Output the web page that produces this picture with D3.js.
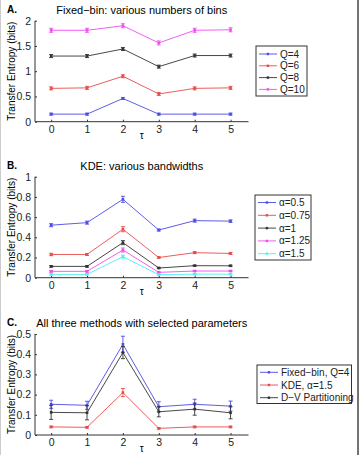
<!DOCTYPE html>
<html>
<head>
<meta charset="utf-8">
<script src="https://cdn.jsdelivr.net/npm/d3@7"></script>
<style>
  body { margin: 0; background: #fff; }
  svg { font-family: "Liberation Sans", Arial, sans-serif; }
</style>
</head>
<body>
<div id="cont"></div>
<script>
var taus = [0, 1, 2, 3, 4, 5];

// panel A: fixed-bin
var fbNames = ["Q=4", "Q=6", "Q=8", "Q=10"];
var fbQ4 = [0.15, 0.15, 0.46, 0.15, 0.15, 0.15];
var fbQ6 = [0.66, 0.67, 0.90, 0.55, 0.66, 0.67];
var fbQ8 = [1.30, 1.30, 1.44, 1.09, 1.31, 1.31];
var fbQ10 = [1.81, 1.81, 1.90, 1.56, 1.81, 1.82];
var fbErr = [0.02, 0.03, 0.03, 0.04];

// panel B: KDE
var kdeNames = ["\u03b1=0.5", "\u03b1=0.75", "\u03b1=1", "\u03b1=1.25", "\u03b1=1.5"];
var kde05 = [0.52, 0.545, 0.776, 0.472, 0.565, 0.56];
var kde075 = [0.23, 0.23, 0.48, 0.20, 0.248, 0.24];
var kde1 = [0.112, 0.112, 0.347, 0.096, 0.119, 0.118];
var kde125 = [0.063, 0.063, 0.274, 0.053, 0.066, 0.066];
var kde15 = [0.033, 0.033, 0.208, 0.030, 0.035, 0.035];
var kdeErr = [
  [0.015, 0.015, 0.03, 0.01, 0.015, 0.012],
  [0.012, 0.01, 0.025, 0.008, 0.01, 0.01],
  [0.008, 0.008, 0.02, 0.006, 0.006, 0.006],
  [0.008, 0.008, 0.02, 0.006, 0.006, 0.006],
  [0.006, 0.006, 0.015, 0.005, 0.005, 0.005]
];

// panel C: all three methods
var allNames = ["Fixed\u2212bin, Q=4", "KDE, \u03b1=1.5", "D\u2212V Partitioning"];
var allFb = [0.152, 0.147, 0.449, 0.14, 0.152, 0.143];
var allKde = [0.04, 0.038, 0.21, 0.033, 0.04, 0.04];
var allDv = [0.112, 0.11, 0.408, 0.115, 0.128, 0.11];
var allFbErr = [0.02, 0.02, 0.04, 0.025, 0.025, 0.025];
var allKdeErr = [0.004, 0.004, 0.02, 0.004, 0.004, 0.004];
var allDvErr = [0.035, 0.035, 0.03, 0.025, 0.03, 0.03];

var colors = {
  blue: "#4b4be8",
  red: "#e84b4b",
  black: "#333333",
  magenta: "#f04cf0",
  cyan: "#4cf0f0"
};

var svg = d3.select("#cont").append("svg")
  .attr("width", 359)
  .attr("height", 455);

// frame lines
svg.append("line").attr("x1", 0.5).attr("x2", 0.5).attr("y1", 0).attr("y2", 455)
  .attr("stroke", "#ccc");
svg.append("line").attr("x1", 358).attr("x2", 358).attr("y1", 0).attr("y2", 455)
  .attr("stroke", "#444").attr("stroke-width", 1.5);

function plotPanel(opt) {
  var left = 35, right = 248.5;
  var top = opt.top, bottom = opt.bottom;

  var xScale = d3.scaleLinear().domain([-0.45, 5.5]).range([left, right]);
  var yScale = d3.scaleLinear().domain([0, opt.ymax]).range([bottom, top]);

  var g = svg.append("g");

  g.append("g")
    .attr("transform", "translate(0," + bottom + ")")
    .call(d3.axisBottom(xScale).tickValues(taus).tickSize(-2).tickPadding(4)
      .tickFormat(d3.format("d")))
    .call(function(a) {
      a.select(".domain").attr("d", "M" + left + ",0H" + right).attr("stroke", "#333");
      a.selectAll("line").attr("stroke", "#333");
      a.selectAll("text").attr("font-size", 10.5).attr("fill", "#222").attr("font-family", "Liberation Sans, Arial, sans-serif");
    });

  g.append("g")
    .attr("transform", "translate(" + left + ",0)")
    .call(d3.axisLeft(yScale).tickValues(opt.yticks).tickSize(-2).tickPadding(4)
      .tickFormat(function(d) { return d; }))
    .call(function(a) {
      a.select(".domain").attr("d", "M0," + top + "V" + bottom).attr("stroke", "#333");
      a.selectAll("line").attr("stroke", "#333");
      a.selectAll("text").attr("font-size", 10.5).attr("fill", "#222").attr("font-family", "Liberation Sans, Arial, sans-serif");
    });

  g.append("text")
    .attr("x", 7).attr("y", top - 8)
    .attr("font-size", 10).attr("font-weight", "bold")
    .text(opt.letter);

  g.append("text")
    .attr("x", (left + right) / 2).attr("y", top - 7)
    .attr("text-anchor", "middle").attr("font-size", 11)
    .text(opt.title);

  g.append("text")
    .attr("x", (left + right) / 2).attr("y", bottom + 17)
    .attr("text-anchor", "middle").attr("font-size", 10)
    .text("\u03c4");

  g.append("text")
    .attr("transform", "translate(15," + (top + bottom) / 2 + ") rotate(-90)")
    .attr("text-anchor", "middle").attr("font-size", 10)
    .text("Transfer Entropy (bits)");

  var line = d3.line()
    .x(function(d, i) { return xScale(taus[i]); })
    .y(function(d) { return yScale(d); });

  opt.series.forEach(function(s) {
    var sg = g.append("g");
    sg.append("path")
      .attr("d", line(s.values))
      .attr("fill", "none")
      .attr("stroke", s.color)
      .attr("stroke-width", 0.9);

    s.values.forEach(function(v, i) {
      var x = xScale(taus[i]);
      var e = s.err[i];
      var y0 = yScale(v - e), y1 = yScale(v + e);
      sg.append("line").attr("x1", x).attr("x2", x).attr("y1", y0).attr("y2", y1)
        .attr("stroke", s.color).attr("stroke-width", 0.9);
      sg.append("line").attr("x1", x - 2).attr("x2", x + 2).attr("y1", y0).attr("y2", y0)
        .attr("stroke", s.color).attr("stroke-width", 0.9);
      sg.append("line").attr("x1", x - 2).attr("x2", x + 2).attr("y1", y1).attr("y2", y1)
        .attr("stroke", s.color).attr("stroke-width", 0.9);
      sg.append("rect").attr("x", x - 1.3).attr("y", yScale(v) - 1.3)
        .attr("width", 2.6).attr("height", 2.6).attr("fill", s.color);
    });
  });

  // legend
  var lg = g.append("g");
  var L = opt.legend;
  lg.append("rect")
    .attr("x", L.x).attr("y", L.y).attr("width", L.w).attr("height", L.h)
    .attr("fill", "#fff").attr("stroke", "#333").attr("stroke-width", 1);
  opt.series.forEach(function(s, i) {
    var yy = L.y + L.first + i * L.step;
    lg.append("line").attr("x1", L.x + 3).attr("x2", L.x + 21).attr("y1", yy).attr("y2", yy)
      .attr("stroke", s.color).attr("stroke-width", 0.9);
    lg.append("rect").attr("x", L.x + 10.7).attr("y", yy - 1.2).attr("width", 2.4).attr("height", 2.4)
      .attr("fill", s.color);
    lg.append("text").attr("x", L.x + 24).attr("y", yy + 3.5)
      .attr("font-size", 10).attr("fill", "#222")
      .text(s.name);
  });
}

plotPanel({
  letter: "A.",
  title: "Fixed\u2212bin: various numbers of bins",
  top: 20.7, bottom: 121.7, ymax: 2,
  yticks: [0, 0.5, 1, 1.5, 2],
  legend: { x: 256, y: 46, w: 51, h: 50, first: 8, step: 11.8 },
  series: [
    { name: fbNames[0], values: fbQ4, err: fbQ4.map(function() { return fbErr[0]; }), color: colors.blue },
    { name: fbNames[1], values: fbQ6, err: fbQ6.map(function() { return fbErr[1]; }), color: colors.red },
    { name: fbNames[2], values: fbQ8, err: fbQ8.map(function() { return fbErr[2]; }), color: colors.black },
    { name: fbNames[3], values: fbQ10, err: fbQ10.map(function() { return fbErr[3]; }), color: colors.magenta }
  ]
});

plotPanel({
  letter: "B.",
  title: "KDE: various bandwidths",
  top: 176.7, bottom: 277.7, ymax: 1,
  yticks: [0, 0.2, 0.4, 0.6, 0.8, 1],
  legend: { x: 255, y: 195, w: 56, h: 65, first: 7.5, step: 12.8 },
  series: [
    { name: kdeNames[0], values: kde05, err: kdeErr[0], color: colors.blue },
    { name: kdeNames[1], values: kde075, err: kdeErr[1], color: colors.red },
    { name: kdeNames[2], values: kde1, err: kdeErr[2], color: colors.black },
    { name: kdeNames[3], values: kde125, err: kdeErr[3], color: colors.magenta },
    { name: kdeNames[4], values: kde15, err: kdeErr[4], color: colors.cyan }
  ]
});

plotPanel({
  letter: "C.",
  title: "All three methods with selected parameters",
  top: 334, bottom: 435, ymax: 0.5,
  yticks: [0, 0.1, 0.2, 0.3, 0.4, 0.5],
  legend: { x: 257, y: 365, w: 94.5, h: 38.5, first: 7.3, step: 12.7 },
  series: [
    { name: allNames[0], values: allFb, err: allFbErr, color: colors.blue },
    { name: allNames[1], values: allKde, err: allKdeErr, color: colors.red },
    { name: allNames[2], values: allDv, err: allDvErr, color: colors.black }
  ]
});
</script>
</body>
</html>
